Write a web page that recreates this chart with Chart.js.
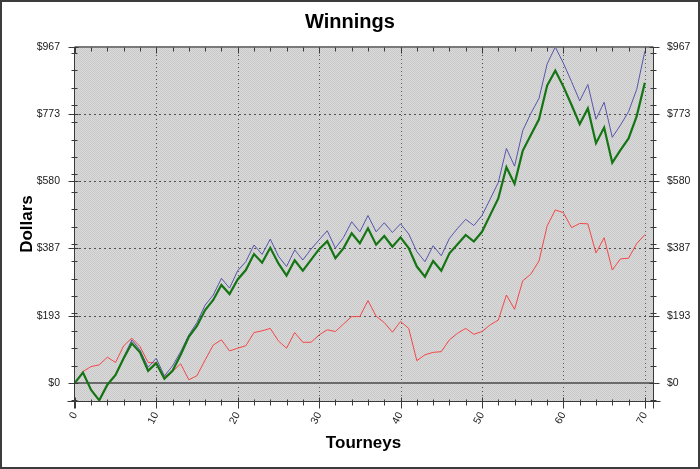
<!DOCTYPE html>
<html>
<head>
<meta charset="utf-8">
<script src="https://cdn.jsdelivr.net/npm/chart.js@4/dist/chart.umd.min.js"></script>
<style>
  html, body { margin: 0; padding: 0; background: #fff; }
  canvas { display: block; }
</style>
</head>
<body>
<canvas id="c" width="700" height="469"></canvas>
<script>
// ---- data ----
const TOURNEYS = Array.from({ length: 71 }, (_, i) => i);

const RED = [0, 33, 47, 52, 74, 59, 107, 129, 105, 59,
  57, 18, 33, 55, 9, 21, 66, 109, 124, 92,
  100, 107, 145, 150, 157, 121, 100, 145, 117, 117,
  138, 153, 148, 170, 191, 191, 237, 192, 174, 146,
  177, 157, 64, 81, 88, 90, 124, 143, 157, 140,
  148, 167, 181, 253, 212, 294, 313, 351, 452, 498,
  490, 447, 459, 458, 374, 418, 325, 357, 359, 401,
  427];

const GREEN = [0, 30, -20, -50, -5, 23, 71, 114, 88, 35,
  57, 12, 35, 81, 133, 164, 210, 239, 282, 256,
  298, 325, 371, 346, 389, 344, 309, 353, 323, 354,
  385, 408, 359, 388, 431, 402, 445, 398, 423, 392,
  419, 388, 335, 306, 351, 323, 373, 399, 426, 407,
  435, 483, 531, 621, 573, 668, 714, 759, 856, 899,
  853, 800, 745, 790, 690, 735, 634, 670, 704, 768,
  864];

const BLUE = [0, 30, -20, -50, -5, 23, 74, 124, 95, 45,
  71, 20, 49, 90, 138, 174, 224, 253, 301, 273,
  323, 349, 397, 370, 414, 365, 335, 383, 354, 385,
  412, 438, 388, 419, 464, 435, 482, 435, 461, 433,
  458, 429, 378, 349, 395, 366, 416, 445, 471, 453,
  482, 529, 577, 675, 624, 726, 776, 819, 918, 967,
  920, 867, 812, 859, 759, 808, 707, 742, 781, 845,
  955];

const X_TICKS = [0, 10, 20, 30, 40, 50, 60, 70];
const Y_TICKS = [0, 193, 387, 580, 773, 967];

// ---- helpers ----
const FONT = "'Liberation Sans', Arial, sans-serif";
Chart.defaults.font.family = FONT;

const pts = arr => TOURNEYS.map((t, i) => ({ x: t, y: arr[i] }));

const canvas = document.getElementById('c');
const ctx = canvas.getContext('2d');

const pc = document.createElement('canvas');
pc.width = 2; pc.height = 2;
const pctx = pc.getContext('2d');
pctx.fillStyle = '#dadada'; pctx.fillRect(0, 0, 2, 2);
pctx.fillStyle = '#c9c9c9'; pctx.fillRect(0, 0, 1, 1); pctx.fillRect(1, 1, 1, 1);
const pattern = ctx.createPattern(pc, 'repeat');

function seg(c, x1, y1, x2, y2) {
  c.beginPath(); c.moveTo(x1, y1); c.lineTo(x2, y2); c.stroke();
}

const frame = {
  id: 'frame',
  beforeDraw(chart) {
    const { ctx: c, chartArea: a, scales } = chart;
    c.save();
    c.fillStyle = '#fff';
    c.fillRect(0, 0, chart.width, chart.height);
    c.fillStyle = pattern;
    c.fillRect(a.left, a.top, a.right - a.left, a.bottom - a.top);
    // dotted grid
    c.strokeStyle = '#505050';
    c.lineWidth = 1;
    c.setLineDash([1, 3]);
    X_TICKS.forEach(v => {
      if (v === 0) return;
      const x = Math.round(scales.x.getPixelForValue(v)) + 0.5;
      seg(c, x, a.top, x, a.bottom);
    });
    c.setLineDash([2, 3]);
    Y_TICKS.forEach(v => {
      if (v === 0) return;
      const y = Math.round(scales.y.getPixelForValue(v)) + 0.5;
      seg(c, a.left, y, a.right, y);
    });
    c.setLineDash([]);
    // zero line
    const y0 = Math.round(scales.y.getPixelForValue(0));
    c.strokeStyle = '#6a6a6a';
    c.lineWidth = 2;
    seg(c, a.left, y0, a.right, y0);
    c.restore();
  },
  afterDatasetsDraw(chart) {
    const { ctx: c, chartArea: a, scales } = chart;
    const L = Math.round(a.left) + 0.5, R = Math.round(a.right) + 0.5;
    const T = Math.round(a.top) + 0.5, B = Math.round(a.bottom) + 0.5;
    c.save();
    // top border
    c.strokeStyle = '#7a7a7a';
    c.lineWidth = 2;
    seg(c, L, T - 0.5, R, T - 0.5);
    // axis lines
    c.strokeStyle = '#3a3a3a';
    c.lineWidth = 1;
    seg(c, L, T, L, B + 7);
    seg(c, R, T, R, B + 7);
    seg(c, L - 7, B, R + 7, B);
    // y ticks
    for (let v = -50; v <= 950; v += 50) {
      const y = Math.round(scales.y.getPixelForValue(v)) + 0.5;
      seg(c, L - 3, y, L + 3, y);
      seg(c, R - 3, y, R + 3, y);
    }
    Y_TICKS.forEach(v => {
      const y = Math.round(scales.y.getPixelForValue(v)) + 0.5;
      seg(c, L - 6, y, L + 4, y);
      seg(c, R - 4, y, R + 6, y);
    });
    // x ticks
    for (let v = 0; v <= 70; v += 2) {
      const x = Math.round(scales.x.getPixelForValue(v)) + 0.5;
      seg(c, x, B - 2, x, B + 4);
      seg(c, x, T, x, T + 4);
    }
    X_TICKS.forEach(v => {
      const x = Math.round(scales.x.getPixelForValue(v)) + 0.5;
      seg(c, x, B - 4, x, B + 7);
      seg(c, x, T, x, T + 6);
    });
    // outer frame
    c.strokeStyle = '#3c3c3c';
    c.lineWidth = 2;
    c.strokeRect(1, 1, chart.width - 2, chart.height - 2);
    c.restore();
  }
};

const tickFont = { family: FONT, size: 10.5 };
const setTicks = list => scale => { scale.ticks = list.map(v => ({ value: v })); };

new Chart(ctx, {
  type: 'line',
  data: {
    datasets: [
      { label: 'Green', data: pts(GREEN), borderColor: '#157515', borderWidth: 2.2, order: 1 },
      { label: 'Blue', data: pts(BLUE), borderColor: '#5656ac', borderWidth: 1, order: 2 },
      { label: 'Red', data: pts(RED), borderColor: '#f44848', borderWidth: 1, order: 3 }
    ]
  },
  options: {
    responsive: false,
    animation: false,
    devicePixelRatio: 1,
    layout: { padding: 0 },
    elements: { point: { radius: 0 }, line: { tension: 0, borderJoinStyle: 'miter' } },
    plugins: {
      legend: { display: false },
      tooltip: { enabled: false },
      title: {
        display: true,
        text: 'Winnings',
        color: '#000',
        font: { family: FONT, size: 20, weight: 'bold' },
        padding: { top: 10, bottom: 13 }
      }
    },
    scales: {
      x: {
        type: 'linear',
        min: -0.1,
        max: 71,
        afterBuildTicks: setTicks(X_TICKS),
        afterFit: s => { s.height = 68; },
        grid: { display: false, drawTicks: false },
        border: { display: false },
        ticks: { minRotation: 62, maxRotation: 62, autoSkip: false, padding: 9, font: tickFont, color: '#1a1a1a' },
        title: {
          display: true, text: 'Tourneys', color: '#000',
          font: { family: FONT, size: 17, weight: 'bold' },
          padding: { top: 0, bottom: 15 }
        }
      },
      y: {
        position: 'left',
        min: -52,
        max: 967,
        afterBuildTicks: setTicks(Y_TICKS),
        afterFit: s => { s.width = 74; },
        grid: { display: false, drawTicks: false },
        border: { display: false },
        ticks: { padding: 14, font: tickFont, color: '#1a1a1a', callback: v => '$' + v },
        title: {
          display: true, text: 'Dollars', color: '#000',
          font: { family: FONT, size: 17, weight: 'bold' },
          padding: { top: 17, bottom: 0 }
        }
      },
      y2: {
        position: 'right',
        min: -52,
        max: 967,
        afterBuildTicks: setTicks(Y_TICKS),
        afterFit: s => { s.width = 47; },
        grid: { display: false, drawTicks: false },
        border: { display: false },
        ticks: { padding: 14, font: tickFont, color: '#1a1a1a', callback: v => '$' + v }
      }
    }
  },
  plugins: [frame]
});
</script>
</body>
</html>
